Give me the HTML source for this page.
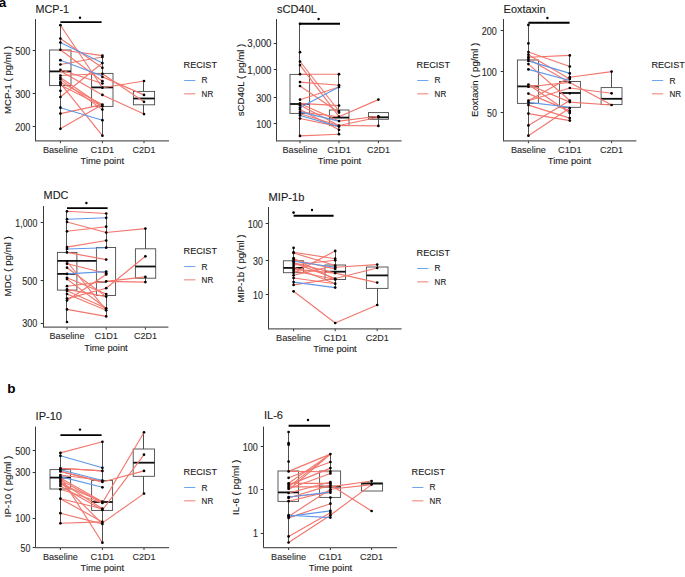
<!DOCTYPE html>
<html><head><meta charset="utf-8"><style>
html,body{margin:0;padding:0;background:#fff;width:685px;height:577px;overflow:hidden}
svg{display:block;font-family:"Liberation Sans", sans-serif}
</style></head><body>
<svg width="685" height="577" viewBox="0 0 685 577">
<rect width="685" height="577" fill="#fff"/>
<text x="35.6" y="13" font-size="11" text-anchor="start" fill="#1a1a1a" stroke="#1a1a1a" stroke-width="0.12" font-weight="normal" textLength="33.4" lengthAdjust="spacingAndGlyphs">MCP-1</text>
<text x="11.0" y="80.05" font-size="9.5" text-anchor="middle" fill="#1a1a1a" stroke="#1a1a1a" stroke-width="0.12" font-weight="normal" textLength="67.8" lengthAdjust="spacingAndGlyphs" transform="rotate(-90 11.0 80.05)">MCP-1 ( pg/ml )</text>
<line x1="32.7" y1="50.5" x2="35.5" y2="50.5" stroke="#333" stroke-width="1"/>
<text x="30.3" y="55.0" font-size="10" text-anchor="end" fill="#2a2a2a" stroke="#2a2a2a" stroke-width="0.12" font-weight="normal" textLength="15.09" lengthAdjust="spacingAndGlyphs">500</text>
<line x1="32.7" y1="93.5" x2="35.5" y2="93.5" stroke="#333" stroke-width="1"/>
<text x="30.3" y="97.80000000000001" font-size="10" text-anchor="end" fill="#2a2a2a" stroke="#2a2a2a" stroke-width="0.12" font-weight="normal" textLength="15.09" lengthAdjust="spacingAndGlyphs">300</text>
<line x1="32.7" y1="126.5" x2="35.5" y2="126.5" stroke="#333" stroke-width="1"/>
<text x="30.3" y="130.8" font-size="10" text-anchor="end" fill="#2a2a2a" stroke="#2a2a2a" stroke-width="0.12" font-weight="normal" textLength="15.09" lengthAdjust="spacingAndGlyphs">200</text>
<line x1="60.4" y1="140.6" x2="60.4" y2="143.2" stroke="#333" stroke-width="1"/>
<text x="60.4" y="153" font-size="9.9" text-anchor="middle" fill="#2a2a2a" stroke="#2a2a2a" stroke-width="0.12" font-weight="normal" textLength="35" lengthAdjust="spacingAndGlyphs">Baseline</text>
<line x1="102.4" y1="140.6" x2="102.4" y2="143.2" stroke="#333" stroke-width="1"/>
<text x="102.4" y="153" font-size="9.9" text-anchor="middle" fill="#2a2a2a" stroke="#2a2a2a" stroke-width="0.12" font-weight="normal" textLength="23.6" lengthAdjust="spacingAndGlyphs">C1D1</text>
<line x1="144" y1="140.6" x2="144" y2="143.2" stroke="#333" stroke-width="1"/>
<text x="144" y="153" font-size="9.9" text-anchor="middle" fill="#2a2a2a" stroke="#2a2a2a" stroke-width="0.12" font-weight="normal" textLength="23" lengthAdjust="spacingAndGlyphs">C2D1</text>
<text x="102.3" y="164" font-size="9.9" text-anchor="middle" fill="#222" stroke="#222" stroke-width="0.12" font-weight="normal" textLength="43.4" lengthAdjust="spacingAndGlyphs">Time point</text>
<line x1="60.5" y1="25.2" x2="60.5" y2="50" stroke="#505050" stroke-width="1"/>
<line x1="60.5" y1="85.6" x2="60.5" y2="128.6" stroke="#505050" stroke-width="1"/>
<rect x="49.6" y="50" width="21.4" height="35.599999999999994" fill="none" stroke="#4a4a4a" stroke-width="0.9"/>
<line x1="49.6" y1="71.4" x2="71" y2="71.4" stroke="#111" stroke-width="1.8"/>
<line x1="102.5" y1="56" x2="102.5" y2="73.4" stroke="#505050" stroke-width="1"/>
<line x1="102.5" y1="106.4" x2="102.5" y2="135.6" stroke="#505050" stroke-width="1"/>
<rect x="91.6" y="73.4" width="21.400000000000006" height="33.0" fill="none" stroke="#4a4a4a" stroke-width="0.9"/>
<line x1="91.6" y1="87.4" x2="113" y2="87.4" stroke="#111" stroke-width="1.8"/>
<line x1="143.5" y1="80.6" x2="143.5" y2="91.4" stroke="#505050" stroke-width="1"/>
<line x1="143.5" y1="104.8" x2="143.5" y2="114.4" stroke="#505050" stroke-width="1"/>
<rect x="133.4" y="91.4" width="21.19999999999999" height="13.399999999999991" fill="none" stroke="#4a4a4a" stroke-width="0.9"/>
<line x1="133.4" y1="98.5" x2="154.6" y2="98.5" stroke="#111" stroke-width="1.8"/>
<line x1="60.4" y1="25.2" x2="102.4" y2="87.7" stroke="#F2776D" stroke-width="1.15"/>
<line x1="60.4" y1="38.5" x2="102.4" y2="67.8" stroke="#F2776D" stroke-width="1.15"/>
<line x1="60.4" y1="49.8" x2="102.4" y2="55.6" stroke="#F2776D" stroke-width="1.15"/>
<line x1="60.4" y1="49.8" x2="102.4" y2="81.2" stroke="#F2776D" stroke-width="1.15"/>
<line x1="60.4" y1="64.5" x2="102.4" y2="57" stroke="#F2776D" stroke-width="1.15"/>
<line x1="60.4" y1="97" x2="102.4" y2="63" stroke="#F2776D" stroke-width="1.15"/>
<line x1="60.4" y1="113.6" x2="102.4" y2="104.6" stroke="#F2776D" stroke-width="1.15"/>
<line x1="60.4" y1="128.8" x2="102.4" y2="104.6" stroke="#F2776D" stroke-width="1.15"/>
<line x1="60.4" y1="83.4" x2="102.4" y2="135.7" stroke="#F2776D" stroke-width="1.15"/>
<line x1="60.4" y1="77.5" x2="102.4" y2="106.2" stroke="#F2776D" stroke-width="1.15"/>
<line x1="60.4" y1="82.2" x2="102.4" y2="104.6" stroke="#F2776D" stroke-width="1.15"/>
<line x1="60.4" y1="85.1" x2="102.4" y2="106.2" stroke="#F2776D" stroke-width="1.15"/>
<line x1="60.4" y1="69.8" x2="102.4" y2="83.5" stroke="#F2776D" stroke-width="1.15"/>
<line x1="60.4" y1="75.5" x2="102.4" y2="73.8" stroke="#F2776D" stroke-width="1.15"/>
<line x1="60.4" y1="79.4" x2="102.4" y2="109.6" stroke="#F2776D" stroke-width="1.15"/>
<line x1="60.4" y1="71" x2="102.4" y2="94.9" stroke="#F2776D" stroke-width="1.15"/>
<line x1="102.4" y1="87.7" x2="144" y2="81" stroke="#F2776D" stroke-width="1.15"/>
<line x1="102.4" y1="76.9" x2="144" y2="94.9" stroke="#F2776D" stroke-width="1.15"/>
<line x1="102.4" y1="73.8" x2="144" y2="101.8" stroke="#F2776D" stroke-width="1.15"/>
<line x1="102.4" y1="94.9" x2="144" y2="114.1" stroke="#F2776D" stroke-width="1.15"/>
<line x1="60.4" y1="42.6" x2="102.4" y2="63" stroke="#5F98E8" stroke-width="1.15"/>
<line x1="60.4" y1="60.2" x2="102.4" y2="76" stroke="#5F98E8" stroke-width="1.15"/>
<line x1="60.4" y1="107.7" x2="102.4" y2="120.2" stroke="#5F98E8" stroke-width="1.15"/>
<circle cx="60.4" cy="25.2" r="1.35" fill="#000"/>
<circle cx="60.4" cy="38.5" r="1.35" fill="#000"/>
<circle cx="60.4" cy="42.6" r="1.35" fill="#000"/>
<circle cx="60.4" cy="49.8" r="1.35" fill="#000"/>
<circle cx="60.4" cy="60.2" r="1.35" fill="#000"/>
<circle cx="60.4" cy="64.5" r="1.35" fill="#000"/>
<circle cx="60.4" cy="69.8" r="1.35" fill="#000"/>
<circle cx="60.4" cy="75.5" r="1.35" fill="#000"/>
<circle cx="60.4" cy="77.5" r="1.35" fill="#000"/>
<circle cx="60.4" cy="79.4" r="1.35" fill="#000"/>
<circle cx="60.4" cy="82.2" r="1.35" fill="#000"/>
<circle cx="60.4" cy="83.4" r="1.35" fill="#000"/>
<circle cx="60.4" cy="85.1" r="1.35" fill="#000"/>
<circle cx="60.4" cy="90.8" r="1.35" fill="#000"/>
<circle cx="60.4" cy="97" r="1.35" fill="#000"/>
<circle cx="60.4" cy="107.7" r="1.35" fill="#000"/>
<circle cx="60.4" cy="113.6" r="1.35" fill="#000"/>
<circle cx="60.4" cy="128.8" r="1.35" fill="#000"/>
<circle cx="102.4" cy="55.6" r="1.35" fill="#000"/>
<circle cx="102.4" cy="57" r="1.35" fill="#000"/>
<circle cx="102.4" cy="63" r="1.35" fill="#000"/>
<circle cx="102.4" cy="67.8" r="1.35" fill="#000"/>
<circle cx="102.4" cy="73.8" r="1.35" fill="#000"/>
<circle cx="102.4" cy="76.9" r="1.35" fill="#000"/>
<circle cx="102.4" cy="81.2" r="1.35" fill="#000"/>
<circle cx="102.4" cy="83.5" r="1.35" fill="#000"/>
<circle cx="102.4" cy="87.7" r="1.35" fill="#000"/>
<circle cx="102.4" cy="94.9" r="1.35" fill="#000"/>
<circle cx="102.4" cy="104.6" r="1.35" fill="#000"/>
<circle cx="102.4" cy="106.2" r="1.35" fill="#000"/>
<circle cx="102.4" cy="109.6" r="1.35" fill="#000"/>
<circle cx="102.4" cy="120.2" r="1.35" fill="#000"/>
<circle cx="102.4" cy="135.7" r="1.35" fill="#000"/>
<circle cx="144" cy="81" r="1.35" fill="#000"/>
<circle cx="144" cy="94.9" r="1.35" fill="#000"/>
<circle cx="144" cy="101.8" r="1.35" fill="#000"/>
<circle cx="144" cy="114.1" r="1.35" fill="#000"/>
<line x1="35.5" y1="19" x2="35.5" y2="141.2" stroke="#3a3a3a" stroke-width="1"/>
<line x1="35.0" y1="140.79999999999998" x2="169" y2="140.79999999999998" stroke="#5a5a5a" stroke-width="1.3"/>
<line x1="60.4" y1="22.1" x2="101.6" y2="22.1" stroke="#000" stroke-width="1.9"/>
<circle cx="80" cy="17.8" r="1.2" fill="#000"/>
<text x="183.6" y="68" font-size="9.6" text-anchor="start" fill="#1a1a1a" stroke="#1a1a1a" stroke-width="0.12" font-weight="normal" textLength="33.4" lengthAdjust="spacingAndGlyphs">RECIST</text>
<line x1="184.2" y1="80.5" x2="195.4" y2="80.5" stroke="#5C9BF2" stroke-width="0.9"/>
<line x1="184.2" y1="93.8" x2="195.4" y2="93.8" stroke="#F29A93" stroke-width="1.3"/>
<text x="201.6" y="83.3" font-size="8.3" text-anchor="start" fill="#222" stroke="#222" stroke-width="0.12" font-weight="normal">R</text>
<text x="201.6" y="97.3" font-size="8.3" text-anchor="start" fill="#222" stroke="#222" stroke-width="0.12" font-weight="normal" textLength="11.6" lengthAdjust="spacingAndGlyphs">NR</text>
<text x="277" y="13" font-size="11" text-anchor="start" fill="#1a1a1a" stroke="#1a1a1a" stroke-width="0.12" font-weight="normal" textLength="40" lengthAdjust="spacingAndGlyphs">sCD40L</text>
<text x="244.1" y="80.0" font-size="9.5" text-anchor="middle" fill="#1a1a1a" stroke="#1a1a1a" stroke-width="0.12" font-weight="normal" textLength="72.7" lengthAdjust="spacingAndGlyphs" transform="rotate(-90 244.1 80.0)">sCD40L ( pg/ml )</text>
<line x1="273.7" y1="43.5" x2="276.5" y2="43.5" stroke="#333" stroke-width="1"/>
<text x="271.40000000000003" y="47.4" font-size="10" text-anchor="end" fill="#2a2a2a" stroke="#2a2a2a" stroke-width="0.12" font-weight="normal" textLength="24.11" lengthAdjust="spacingAndGlyphs">3,000</text>
<line x1="273.7" y1="69.5" x2="276.5" y2="69.5" stroke="#333" stroke-width="1"/>
<text x="271.40000000000003" y="73.80000000000001" font-size="10" text-anchor="end" fill="#2a2a2a" stroke="#2a2a2a" stroke-width="0.12" font-weight="normal" textLength="24.11" lengthAdjust="spacingAndGlyphs">1,000</text>
<line x1="273.7" y1="97.5" x2="276.5" y2="97.5" stroke="#333" stroke-width="1"/>
<text x="271.40000000000003" y="101.9" font-size="10" text-anchor="end" fill="#2a2a2a" stroke="#2a2a2a" stroke-width="0.12" font-weight="normal" textLength="15.09" lengthAdjust="spacingAndGlyphs">300</text>
<line x1="273.7" y1="123.5" x2="276.5" y2="123.5" stroke="#333" stroke-width="1"/>
<text x="271.40000000000003" y="128.0" font-size="10" text-anchor="end" fill="#2a2a2a" stroke="#2a2a2a" stroke-width="0.12" font-weight="normal" textLength="15.09" lengthAdjust="spacingAndGlyphs">100</text>
<line x1="300" y1="140.6" x2="300" y2="143.2" stroke="#333" stroke-width="1"/>
<text x="300" y="153" font-size="9.9" text-anchor="middle" fill="#2a2a2a" stroke="#2a2a2a" stroke-width="0.12" font-weight="normal" textLength="35" lengthAdjust="spacingAndGlyphs">Baseline</text>
<line x1="339" y1="140.6" x2="339" y2="143.2" stroke="#333" stroke-width="1"/>
<text x="339" y="153" font-size="9.9" text-anchor="middle" fill="#2a2a2a" stroke="#2a2a2a" stroke-width="0.12" font-weight="normal" textLength="23.6" lengthAdjust="spacingAndGlyphs">C1D1</text>
<line x1="378.4" y1="140.6" x2="378.4" y2="143.2" stroke="#333" stroke-width="1"/>
<text x="378.4" y="153" font-size="9.9" text-anchor="middle" fill="#2a2a2a" stroke="#2a2a2a" stroke-width="0.12" font-weight="normal" textLength="23" lengthAdjust="spacingAndGlyphs">C2D1</text>
<text x="339.5" y="164" font-size="9.9" text-anchor="middle" fill="#222" stroke="#222" stroke-width="0.12" font-weight="normal" textLength="43.4" lengthAdjust="spacingAndGlyphs">Time point</text>
<line x1="299.5" y1="24" x2="299.5" y2="74.4" stroke="#505050" stroke-width="1"/>
<line x1="299.5" y1="113.4" x2="299.5" y2="135.6" stroke="#505050" stroke-width="1"/>
<rect x="290" y="74.4" width="19.600000000000023" height="39.0" fill="none" stroke="#4a4a4a" stroke-width="0.9"/>
<line x1="290" y1="104" x2="309.6" y2="104" stroke="#111" stroke-width="1.8"/>
<line x1="338.5" y1="74.4" x2="338.5" y2="110" stroke="#505050" stroke-width="1"/>
<line x1="338.5" y1="125.6" x2="338.5" y2="134" stroke="#505050" stroke-width="1"/>
<rect x="329.4" y="110" width="19.600000000000023" height="15.599999999999994" fill="none" stroke="#4a4a4a" stroke-width="0.9"/>
<line x1="329.4" y1="117.6" x2="349" y2="117.6" stroke="#111" stroke-width="1.8"/>
<line x1="378.5" y1="112.6" x2="378.5" y2="112.6" stroke="#505050" stroke-width="1"/>
<line x1="378.5" y1="119.3" x2="378.5" y2="125.9" stroke="#505050" stroke-width="1"/>
<rect x="368.5" y="112.6" width="20.0" height="6.700000000000003" fill="none" stroke="#4a4a4a" stroke-width="0.9"/>
<line x1="368.5" y1="117.3" x2="388.5" y2="117.3" stroke="#111" stroke-width="1.8"/>
<line x1="300" y1="74.2" x2="339" y2="74.2" stroke="#F2776D" stroke-width="1.15"/>
<line x1="300" y1="82.1" x2="339" y2="85.2" stroke="#F2776D" stroke-width="1.15"/>
<line x1="300" y1="86" x2="339" y2="112.6" stroke="#F2776D" stroke-width="1.15"/>
<line x1="300" y1="99.7" x2="339" y2="87" stroke="#F2776D" stroke-width="1.15"/>
<line x1="300" y1="61.5" x2="339" y2="111" stroke="#F2776D" stroke-width="1.15"/>
<line x1="300" y1="65.1" x2="339" y2="116.7" stroke="#F2776D" stroke-width="1.15"/>
<line x1="300" y1="103.4" x2="339" y2="105.6" stroke="#F2776D" stroke-width="1.15"/>
<line x1="300" y1="105.2" x2="339" y2="125.5" stroke="#F2776D" stroke-width="1.15"/>
<line x1="300" y1="109.4" x2="339" y2="129.8" stroke="#F2776D" stroke-width="1.15"/>
<line x1="300" y1="113.7" x2="339" y2="125.5" stroke="#F2776D" stroke-width="1.15"/>
<line x1="300" y1="118.5" x2="339" y2="126.6" stroke="#F2776D" stroke-width="1.15"/>
<line x1="300" y1="135.9" x2="339" y2="134.2" stroke="#F2776D" stroke-width="1.15"/>
<line x1="300" y1="103.4" x2="339" y2="121.1" stroke="#F2776D" stroke-width="1.15"/>
<line x1="300" y1="111.9" x2="339" y2="116.7" stroke="#F2776D" stroke-width="1.15"/>
<line x1="339" y1="116.7" x2="378.4" y2="99.6" stroke="#F2776D" stroke-width="1.15"/>
<line x1="339" y1="121.1" x2="378.4" y2="116.3" stroke="#F2776D" stroke-width="1.15"/>
<line x1="339" y1="125.5" x2="378.4" y2="117.3" stroke="#F2776D" stroke-width="1.15"/>
<line x1="339" y1="125.5" x2="378.4" y2="125.9" stroke="#F2776D" stroke-width="1.15"/>
<line x1="300" y1="107.6" x2="339" y2="87" stroke="#5F98E8" stroke-width="1.15"/>
<line x1="300" y1="111.9" x2="339" y2="121.1" stroke="#5F98E8" stroke-width="1.15"/>
<line x1="300" y1="115.5" x2="339" y2="126.6" stroke="#5F98E8" stroke-width="1.15"/>
<circle cx="300" cy="23.8" r="1.35" fill="#000"/>
<circle cx="300" cy="52.2" r="1.35" fill="#000"/>
<circle cx="300" cy="61.5" r="1.35" fill="#000"/>
<circle cx="300" cy="65.1" r="1.35" fill="#000"/>
<circle cx="300" cy="74.2" r="1.35" fill="#000"/>
<circle cx="300" cy="82.1" r="1.35" fill="#000"/>
<circle cx="300" cy="86" r="1.35" fill="#000"/>
<circle cx="300" cy="99.7" r="1.35" fill="#000"/>
<circle cx="300" cy="103.4" r="1.35" fill="#000"/>
<circle cx="300" cy="105.2" r="1.35" fill="#000"/>
<circle cx="300" cy="107.6" r="1.35" fill="#000"/>
<circle cx="300" cy="109.4" r="1.35" fill="#000"/>
<circle cx="300" cy="111.9" r="1.35" fill="#000"/>
<circle cx="300" cy="113.7" r="1.35" fill="#000"/>
<circle cx="300" cy="115.5" r="1.35" fill="#000"/>
<circle cx="300" cy="118.5" r="1.35" fill="#000"/>
<circle cx="300" cy="135.9" r="1.35" fill="#000"/>
<circle cx="339" cy="74.2" r="1.35" fill="#000"/>
<circle cx="339" cy="85.2" r="1.35" fill="#000"/>
<circle cx="339" cy="87" r="1.35" fill="#000"/>
<circle cx="339" cy="105.6" r="1.35" fill="#000"/>
<circle cx="339" cy="111" r="1.35" fill="#000"/>
<circle cx="339" cy="112.6" r="1.35" fill="#000"/>
<circle cx="339" cy="116.7" r="1.35" fill="#000"/>
<circle cx="339" cy="121.1" r="1.35" fill="#000"/>
<circle cx="339" cy="125.5" r="1.35" fill="#000"/>
<circle cx="339" cy="126.6" r="1.35" fill="#000"/>
<circle cx="339" cy="129.8" r="1.35" fill="#000"/>
<circle cx="339" cy="134.2" r="1.35" fill="#000"/>
<circle cx="378.4" cy="99.6" r="1.35" fill="#000"/>
<circle cx="378.4" cy="116.3" r="1.35" fill="#000"/>
<circle cx="378.4" cy="117.3" r="1.35" fill="#000"/>
<circle cx="378.4" cy="125.9" r="1.35" fill="#000"/>
<line x1="276.5" y1="19" x2="276.5" y2="141.2" stroke="#3a3a3a" stroke-width="1"/>
<line x1="276.0" y1="140.79999999999998" x2="401.6" y2="140.79999999999998" stroke="#5a5a5a" stroke-width="1.3"/>
<line x1="300" y1="23.700000000000003" x2="340" y2="23.700000000000003" stroke="#000" stroke-width="1.9"/>
<circle cx="318.6" cy="19" r="1.2" fill="#000"/>
<text x="416.6" y="68" font-size="9.6" text-anchor="start" fill="#1a1a1a" stroke="#1a1a1a" stroke-width="0.12" font-weight="normal" textLength="33.4" lengthAdjust="spacingAndGlyphs">RECIST</text>
<line x1="417.20000000000005" y1="80.5" x2="428.40000000000003" y2="80.5" stroke="#5C9BF2" stroke-width="0.9"/>
<line x1="417.20000000000005" y1="93.8" x2="428.40000000000003" y2="93.8" stroke="#F29A93" stroke-width="1.3"/>
<text x="434.6" y="83.3" font-size="8.3" text-anchor="start" fill="#222" stroke="#222" stroke-width="0.12" font-weight="normal">R</text>
<text x="434.6" y="97.3" font-size="8.3" text-anchor="start" fill="#222" stroke="#222" stroke-width="0.12" font-weight="normal" textLength="11.6" lengthAdjust="spacingAndGlyphs">NR</text>
<text x="503.6" y="13" font-size="11" text-anchor="start" fill="#1a1a1a" stroke="#1a1a1a" stroke-width="0.12" font-weight="normal" textLength="42" lengthAdjust="spacingAndGlyphs">Eoxtaxin</text>
<text x="478.3" y="79.9" font-size="9.5" text-anchor="middle" fill="#1a1a1a" stroke="#1a1a1a" stroke-width="0.12" font-weight="normal" textLength="74.4" lengthAdjust="spacingAndGlyphs" transform="rotate(-90 478.3 79.9)">Eoxtaxin ( pg/ml )</text>
<line x1="500.7" y1="30.5" x2="503.5" y2="30.5" stroke="#333" stroke-width="1"/>
<text x="496.8" y="35.0" font-size="10" text-anchor="end" fill="#2a2a2a" stroke="#2a2a2a" stroke-width="0.12" font-weight="normal" textLength="15.09" lengthAdjust="spacingAndGlyphs">200</text>
<line x1="500.7" y1="71.5" x2="503.5" y2="71.5" stroke="#333" stroke-width="1"/>
<text x="496.8" y="76.0" font-size="10" text-anchor="end" fill="#2a2a2a" stroke="#2a2a2a" stroke-width="0.12" font-weight="normal" textLength="15.09" lengthAdjust="spacingAndGlyphs">100</text>
<line x1="500.7" y1="112.5" x2="503.5" y2="112.5" stroke="#333" stroke-width="1"/>
<text x="496.8" y="117.2" font-size="10" text-anchor="end" fill="#2a2a2a" stroke="#2a2a2a" stroke-width="0.12" font-weight="normal" textLength="9.8" lengthAdjust="spacingAndGlyphs">50</text>
<line x1="528.4" y1="140.6" x2="528.4" y2="143.2" stroke="#333" stroke-width="1"/>
<text x="528.4" y="153" font-size="9.9" text-anchor="middle" fill="#2a2a2a" stroke="#2a2a2a" stroke-width="0.12" font-weight="normal" textLength="35" lengthAdjust="spacingAndGlyphs">Baseline</text>
<line x1="569.8" y1="140.6" x2="569.8" y2="143.2" stroke="#333" stroke-width="1"/>
<text x="569.8" y="153" font-size="9.9" text-anchor="middle" fill="#2a2a2a" stroke="#2a2a2a" stroke-width="0.12" font-weight="normal" textLength="23.6" lengthAdjust="spacingAndGlyphs">C1D1</text>
<line x1="611.6" y1="140.6" x2="611.6" y2="143.2" stroke="#333" stroke-width="1"/>
<text x="611.6" y="153" font-size="9.9" text-anchor="middle" fill="#2a2a2a" stroke="#2a2a2a" stroke-width="0.12" font-weight="normal" textLength="23" lengthAdjust="spacingAndGlyphs">C2D1</text>
<text x="569.5" y="164" font-size="9.9" text-anchor="middle" fill="#222" stroke="#222" stroke-width="0.12" font-weight="normal" textLength="43.4" lengthAdjust="spacingAndGlyphs">Time point</text>
<line x1="528.5" y1="24.9" x2="528.5" y2="60" stroke="#505050" stroke-width="1"/>
<line x1="528.5" y1="103.4" x2="528.5" y2="135.7" stroke="#505050" stroke-width="1"/>
<rect x="517.4" y="60" width="21.0" height="43.400000000000006" fill="none" stroke="#4a4a4a" stroke-width="0.9"/>
<line x1="517.4" y1="86.4" x2="538.4" y2="86.4" stroke="#111" stroke-width="1.8"/>
<line x1="569.5" y1="55.4" x2="569.5" y2="81.5" stroke="#505050" stroke-width="1"/>
<line x1="569.5" y1="107.3" x2="569.5" y2="120.6" stroke="#505050" stroke-width="1"/>
<rect x="559.5" y="81.5" width="20.899999999999977" height="25.799999999999997" fill="none" stroke="#4a4a4a" stroke-width="0.9"/>
<line x1="559.5" y1="93" x2="580.4" y2="93" stroke="#111" stroke-width="1.8"/>
<line x1="611.5" y1="71.6" x2="611.5" y2="87.6" stroke="#505050" stroke-width="1"/>
<line x1="611.5" y1="104.6" x2="611.5" y2="105" stroke="#505050" stroke-width="1"/>
<rect x="601.1" y="87.6" width="20.899999999999977" height="17.0" fill="none" stroke="#4a4a4a" stroke-width="0.9"/>
<line x1="601.1" y1="98.8" x2="622" y2="98.8" stroke="#111" stroke-width="1.8"/>
<line x1="528.4" y1="52" x2="569.8" y2="66.5" stroke="#F2776D" stroke-width="1.15"/>
<line x1="528.4" y1="54.7" x2="569.8" y2="79" stroke="#F2776D" stroke-width="1.15"/>
<line x1="528.4" y1="57.2" x2="569.8" y2="55.4" stroke="#F2776D" stroke-width="1.15"/>
<line x1="528.4" y1="59.1" x2="569.8" y2="82.4" stroke="#F2776D" stroke-width="1.15"/>
<line x1="528.4" y1="64.1" x2="569.8" y2="100.5" stroke="#F2776D" stroke-width="1.15"/>
<line x1="528.4" y1="84.5" x2="569.8" y2="102.1" stroke="#F2776D" stroke-width="1.15"/>
<line x1="528.4" y1="86.7" x2="569.8" y2="82.4" stroke="#F2776D" stroke-width="1.15"/>
<line x1="528.4" y1="93.6" x2="569.8" y2="110.9" stroke="#F2776D" stroke-width="1.15"/>
<line x1="528.4" y1="100.7" x2="569.8" y2="88" stroke="#F2776D" stroke-width="1.15"/>
<line x1="528.4" y1="105.1" x2="569.8" y2="118.1" stroke="#F2776D" stroke-width="1.15"/>
<line x1="528.4" y1="113.6" x2="569.8" y2="120.6" stroke="#F2776D" stroke-width="1.15"/>
<line x1="528.4" y1="125.4" x2="569.8" y2="100.5" stroke="#F2776D" stroke-width="1.15"/>
<line x1="528.4" y1="135.7" x2="569.8" y2="108.1" stroke="#F2776D" stroke-width="1.15"/>
<line x1="528.4" y1="100.7" x2="569.8" y2="77.2" stroke="#F2776D" stroke-width="1.15"/>
<line x1="528.4" y1="84.5" x2="569.8" y2="113" stroke="#F2776D" stroke-width="1.15"/>
<line x1="569.8" y1="77.2" x2="611.6" y2="71.6" stroke="#F2776D" stroke-width="1.15"/>
<line x1="569.8" y1="88" x2="611.6" y2="93.3" stroke="#F2776D" stroke-width="1.15"/>
<line x1="569.8" y1="82.4" x2="611.6" y2="105" stroke="#F2776D" stroke-width="1.15"/>
<line x1="569.8" y1="102.1" x2="611.6" y2="105" stroke="#F2776D" stroke-width="1.15"/>
<line x1="528.4" y1="60.9" x2="569.8" y2="73.4" stroke="#5F98E8" stroke-width="1.15"/>
<line x1="528.4" y1="69.4" x2="569.8" y2="80.5" stroke="#5F98E8" stroke-width="1.15"/>
<line x1="528.4" y1="102.4" x2="569.8" y2="107.3" stroke="#5F98E8" stroke-width="1.15"/>
<circle cx="528.4" cy="24.9" r="1.35" fill="#000"/>
<circle cx="528.4" cy="43.4" r="1.35" fill="#000"/>
<circle cx="528.4" cy="52" r="1.35" fill="#000"/>
<circle cx="528.4" cy="54.7" r="1.35" fill="#000"/>
<circle cx="528.4" cy="57.2" r="1.35" fill="#000"/>
<circle cx="528.4" cy="59.1" r="1.35" fill="#000"/>
<circle cx="528.4" cy="60.9" r="1.35" fill="#000"/>
<circle cx="528.4" cy="64.1" r="1.35" fill="#000"/>
<circle cx="528.4" cy="69.4" r="1.35" fill="#000"/>
<circle cx="528.4" cy="84.5" r="1.35" fill="#000"/>
<circle cx="528.4" cy="86.7" r="1.35" fill="#000"/>
<circle cx="528.4" cy="93.6" r="1.35" fill="#000"/>
<circle cx="528.4" cy="100.7" r="1.35" fill="#000"/>
<circle cx="528.4" cy="102.4" r="1.35" fill="#000"/>
<circle cx="528.4" cy="105.1" r="1.35" fill="#000"/>
<circle cx="528.4" cy="113.6" r="1.35" fill="#000"/>
<circle cx="528.4" cy="125.4" r="1.35" fill="#000"/>
<circle cx="528.4" cy="135.7" r="1.35" fill="#000"/>
<circle cx="569.8" cy="55.4" r="1.35" fill="#000"/>
<circle cx="569.8" cy="66.5" r="1.35" fill="#000"/>
<circle cx="569.8" cy="73.4" r="1.35" fill="#000"/>
<circle cx="569.8" cy="77.2" r="1.35" fill="#000"/>
<circle cx="569.8" cy="79" r="1.35" fill="#000"/>
<circle cx="569.8" cy="82.4" r="1.35" fill="#000"/>
<circle cx="569.8" cy="88" r="1.35" fill="#000"/>
<circle cx="569.8" cy="93.3" r="1.35" fill="#000"/>
<circle cx="569.8" cy="100.5" r="1.35" fill="#000"/>
<circle cx="569.8" cy="102.1" r="1.35" fill="#000"/>
<circle cx="569.8" cy="108.1" r="1.35" fill="#000"/>
<circle cx="569.8" cy="110.9" r="1.35" fill="#000"/>
<circle cx="569.8" cy="113" r="1.35" fill="#000"/>
<circle cx="569.8" cy="118.1" r="1.35" fill="#000"/>
<circle cx="569.8" cy="120.6" r="1.35" fill="#000"/>
<circle cx="611.6" cy="71.6" r="1.35" fill="#000"/>
<circle cx="611.6" cy="93.3" r="1.35" fill="#000"/>
<circle cx="611.6" cy="105" r="1.35" fill="#000"/>
<line x1="503.5" y1="19" x2="503.5" y2="141.2" stroke="#3a3a3a" stroke-width="1"/>
<line x1="503.0" y1="140.79999999999998" x2="636.4" y2="140.79999999999998" stroke="#5a5a5a" stroke-width="1.3"/>
<line x1="528.4" y1="22.700000000000003" x2="569.6" y2="22.700000000000003" stroke="#000" stroke-width="1.9"/>
<circle cx="547.4" cy="18" r="1.2" fill="#000"/>
<text x="651.4" y="68" font-size="9.6" text-anchor="start" fill="#1a1a1a" stroke="#1a1a1a" stroke-width="0.12" font-weight="normal" textLength="33.4" lengthAdjust="spacingAndGlyphs">RECIST</text>
<line x1="652.0" y1="80.5" x2="663.1999999999999" y2="80.5" stroke="#5C9BF2" stroke-width="0.9"/>
<line x1="652.0" y1="93.8" x2="663.1999999999999" y2="93.8" stroke="#F29A93" stroke-width="1.3"/>
<text x="669.4" y="83.89999999999999" font-size="8.3" text-anchor="start" fill="#222" stroke="#222" stroke-width="0.12" font-weight="normal">R</text>
<text x="669.4" y="97.3" font-size="8.3" text-anchor="start" fill="#222" stroke="#222" stroke-width="0.12" font-weight="normal" textLength="11.6" lengthAdjust="spacingAndGlyphs">NR</text>
<text x="43.6" y="199" font-size="11" text-anchor="start" fill="#1a1a1a" stroke="#1a1a1a" stroke-width="0.12" font-weight="normal" textLength="24.8" lengthAdjust="spacingAndGlyphs">MDC</text>
<text x="11.0" y="266.3" font-size="9.5" text-anchor="middle" fill="#1a1a1a" stroke="#1a1a1a" stroke-width="0.12" font-weight="normal" textLength="60.2" lengthAdjust="spacingAndGlyphs" transform="rotate(-90 11.0 266.3)">MDC ( pg/ml )</text>
<line x1="40.7" y1="222.5" x2="43.5" y2="222.5" stroke="#333" stroke-width="1"/>
<text x="37.3" y="227.0" font-size="10" text-anchor="end" fill="#2a2a2a" stroke="#2a2a2a" stroke-width="0.12" font-weight="normal" textLength="21.95" lengthAdjust="spacingAndGlyphs">1,000</text>
<line x1="40.7" y1="280.5" x2="43.5" y2="280.5" stroke="#333" stroke-width="1"/>
<text x="37.3" y="285.0" font-size="10" text-anchor="end" fill="#2a2a2a" stroke="#2a2a2a" stroke-width="0.12" font-weight="normal" textLength="15.09" lengthAdjust="spacingAndGlyphs">500</text>
<line x1="40.7" y1="323.5" x2="43.5" y2="323.5" stroke="#333" stroke-width="1"/>
<text x="37.3" y="327.4" font-size="10" text-anchor="end" fill="#2a2a2a" stroke="#2a2a2a" stroke-width="0.12" font-weight="normal" textLength="15.09" lengthAdjust="spacingAndGlyphs">300</text>
<line x1="67" y1="327" x2="67" y2="329.6" stroke="#333" stroke-width="1"/>
<text x="67" y="339.2" font-size="9.9" text-anchor="middle" fill="#2a2a2a" stroke="#2a2a2a" stroke-width="0.12" font-weight="normal" textLength="35" lengthAdjust="spacingAndGlyphs">Baseline</text>
<line x1="106.2" y1="327" x2="106.2" y2="329.6" stroke="#333" stroke-width="1"/>
<text x="106.2" y="339.2" font-size="9.9" text-anchor="middle" fill="#2a2a2a" stroke="#2a2a2a" stroke-width="0.12" font-weight="normal" textLength="23.6" lengthAdjust="spacingAndGlyphs">C1D1</text>
<line x1="145.4" y1="327" x2="145.4" y2="329.6" stroke="#333" stroke-width="1"/>
<text x="145.4" y="339.2" font-size="9.9" text-anchor="middle" fill="#2a2a2a" stroke="#2a2a2a" stroke-width="0.12" font-weight="normal" textLength="23" lengthAdjust="spacingAndGlyphs">C2D1</text>
<text x="106" y="350.5" font-size="9.9" text-anchor="middle" fill="#222" stroke="#222" stroke-width="0.12" font-weight="normal" textLength="43.4" lengthAdjust="spacingAndGlyphs">Time point</text>
<line x1="66.5" y1="211.3" x2="66.5" y2="252.4" stroke="#505050" stroke-width="1"/>
<line x1="66.5" y1="290.1" x2="66.5" y2="322" stroke="#505050" stroke-width="1"/>
<rect x="57.4" y="252.4" width="19.500000000000007" height="37.70000000000002" fill="none" stroke="#4a4a4a" stroke-width="0.9"/>
<line x1="57.4" y1="273.9" x2="76.9" y2="273.9" stroke="#111" stroke-width="1.8"/>
<line x1="106.5" y1="213.5" x2="106.5" y2="247.5" stroke="#505050" stroke-width="1"/>
<line x1="106.5" y1="295.5" x2="106.5" y2="316.4" stroke="#505050" stroke-width="1"/>
<rect x="96.4" y="247.5" width="19.19999999999999" height="48.0" fill="none" stroke="#4a4a4a" stroke-width="0.9"/>
<line x1="145.5" y1="228.6" x2="145.5" y2="248.8" stroke="#505050" stroke-width="1"/>
<line x1="145.5" y1="278.2" x2="145.5" y2="282.1" stroke="#505050" stroke-width="1"/>
<rect x="135.4" y="248.8" width="20.299999999999983" height="29.399999999999977" fill="none" stroke="#4a4a4a" stroke-width="0.9"/>
<line x1="135.4" y1="266.5" x2="155.7" y2="266.5" stroke="#111" stroke-width="1.8"/>
<line x1="57.4" y1="260.9" x2="96.4" y2="260.9" stroke="#111" stroke-width="1.8"/>
<line x1="96.4" y1="282" x2="106" y2="282" stroke="#222" stroke-width="1.2"/>
<line x1="67" y1="211.3" x2="106.2" y2="213.5" stroke="#F2776D" stroke-width="1.15"/>
<line x1="67" y1="222" x2="106.2" y2="232.5" stroke="#F2776D" stroke-width="1.15"/>
<line x1="67" y1="231.3" x2="106.2" y2="226.7" stroke="#F2776D" stroke-width="1.15"/>
<line x1="67" y1="247.1" x2="106.2" y2="240.5" stroke="#F2776D" stroke-width="1.15"/>
<line x1="67" y1="252.4" x2="106.2" y2="259.6" stroke="#F2776D" stroke-width="1.15"/>
<line x1="67" y1="263.8" x2="106.2" y2="273.2" stroke="#F2776D" stroke-width="1.15"/>
<line x1="67" y1="277.8" x2="106.2" y2="294" stroke="#F2776D" stroke-width="1.15"/>
<line x1="67" y1="267.7" x2="106.2" y2="296.6" stroke="#F2776D" stroke-width="1.15"/>
<line x1="67" y1="286.2" x2="106.2" y2="281.4" stroke="#F2776D" stroke-width="1.15"/>
<line x1="67" y1="289.4" x2="106.2" y2="296.6" stroke="#F2776D" stroke-width="1.15"/>
<line x1="67" y1="290.7" x2="106.2" y2="308.3" stroke="#F2776D" stroke-width="1.15"/>
<line x1="67" y1="294" x2="106.2" y2="310.3" stroke="#F2776D" stroke-width="1.15"/>
<line x1="67" y1="298.6" x2="106.2" y2="288.2" stroke="#F2776D" stroke-width="1.15"/>
<line x1="67" y1="300.5" x2="106.2" y2="274.5" stroke="#F2776D" stroke-width="1.15"/>
<line x1="67" y1="309.4" x2="106.2" y2="316.4" stroke="#F2776D" stroke-width="1.15"/>
<line x1="67" y1="279.1" x2="106.2" y2="308.3" stroke="#F2776D" stroke-width="1.15"/>
<line x1="67" y1="261.5" x2="106.2" y2="310.3" stroke="#F2776D" stroke-width="1.15"/>
<line x1="106.2" y1="232.5" x2="145.4" y2="228.6" stroke="#F2776D" stroke-width="1.15"/>
<line x1="106.2" y1="288.2" x2="145.4" y2="256.3" stroke="#F2776D" stroke-width="1.15"/>
<line x1="106.2" y1="281.4" x2="145.4" y2="276.9" stroke="#F2776D" stroke-width="1.15"/>
<line x1="106.2" y1="281.4" x2="145.4" y2="282.1" stroke="#F2776D" stroke-width="1.15"/>
<line x1="67" y1="219.2" x2="106.2" y2="217.8" stroke="#5F98E8" stroke-width="1.15"/>
<line x1="67" y1="249" x2="106.2" y2="247.7" stroke="#5F98E8" stroke-width="1.15"/>
<line x1="67" y1="273.9" x2="106.2" y2="271.6" stroke="#5F98E8" stroke-width="1.15"/>
<circle cx="67" cy="211.3" r="1.35" fill="#000"/>
<circle cx="67" cy="219.2" r="1.35" fill="#000"/>
<circle cx="67" cy="222" r="1.35" fill="#000"/>
<circle cx="67" cy="231.3" r="1.35" fill="#000"/>
<circle cx="67" cy="247.1" r="1.35" fill="#000"/>
<circle cx="67" cy="249" r="1.35" fill="#000"/>
<circle cx="67" cy="252.4" r="1.35" fill="#000"/>
<circle cx="67" cy="261.5" r="1.35" fill="#000"/>
<circle cx="67" cy="263.8" r="1.35" fill="#000"/>
<circle cx="67" cy="267.7" r="1.35" fill="#000"/>
<circle cx="67" cy="273.9" r="1.35" fill="#000"/>
<circle cx="67" cy="277.8" r="1.35" fill="#000"/>
<circle cx="67" cy="279.1" r="1.35" fill="#000"/>
<circle cx="67" cy="286.2" r="1.35" fill="#000"/>
<circle cx="67" cy="289.4" r="1.35" fill="#000"/>
<circle cx="67" cy="290.7" r="1.35" fill="#000"/>
<circle cx="67" cy="294" r="1.35" fill="#000"/>
<circle cx="67" cy="298.6" r="1.35" fill="#000"/>
<circle cx="67" cy="300.5" r="1.35" fill="#000"/>
<circle cx="67" cy="309.4" r="1.35" fill="#000"/>
<circle cx="67" cy="322" r="1.35" fill="#000"/>
<circle cx="106.2" cy="213.5" r="1.35" fill="#000"/>
<circle cx="106.2" cy="217.8" r="1.35" fill="#000"/>
<circle cx="106.2" cy="226.7" r="1.35" fill="#000"/>
<circle cx="106.2" cy="232.5" r="1.35" fill="#000"/>
<circle cx="106.2" cy="240.5" r="1.35" fill="#000"/>
<circle cx="106.2" cy="247.7" r="1.35" fill="#000"/>
<circle cx="106.2" cy="259.6" r="1.35" fill="#000"/>
<circle cx="106.2" cy="271.6" r="1.35" fill="#000"/>
<circle cx="106.2" cy="273.2" r="1.35" fill="#000"/>
<circle cx="106.2" cy="274.5" r="1.35" fill="#000"/>
<circle cx="106.2" cy="281.4" r="1.35" fill="#000"/>
<circle cx="106.2" cy="288.2" r="1.35" fill="#000"/>
<circle cx="106.2" cy="294" r="1.35" fill="#000"/>
<circle cx="106.2" cy="296.6" r="1.35" fill="#000"/>
<circle cx="106.2" cy="308.3" r="1.35" fill="#000"/>
<circle cx="106.2" cy="310.3" r="1.35" fill="#000"/>
<circle cx="106.2" cy="316.4" r="1.35" fill="#000"/>
<circle cx="145.4" cy="228.6" r="1.35" fill="#000"/>
<circle cx="145.4" cy="256.3" r="1.35" fill="#000"/>
<circle cx="145.4" cy="276.9" r="1.35" fill="#000"/>
<circle cx="145.4" cy="282.1" r="1.35" fill="#000"/>
<line x1="43.5" y1="206" x2="43.5" y2="327.6" stroke="#3a3a3a" stroke-width="1"/>
<line x1="43.0" y1="327.2" x2="168.4" y2="327.2" stroke="#5a5a5a" stroke-width="1.3"/>
<line x1="67" y1="208.1" x2="107.6" y2="208.1" stroke="#000" stroke-width="1.9"/>
<circle cx="86.4" cy="203" r="1.2" fill="#000"/>
<text x="183.6" y="254" font-size="9.6" text-anchor="start" fill="#1a1a1a" stroke="#1a1a1a" stroke-width="0.12" font-weight="normal" textLength="33.4" lengthAdjust="spacingAndGlyphs">RECIST</text>
<line x1="184.2" y1="266.5" x2="195.4" y2="266.5" stroke="#5C9BF2" stroke-width="0.9"/>
<line x1="184.2" y1="279.8" x2="195.4" y2="279.8" stroke="#F29A93" stroke-width="1.3"/>
<text x="201.6" y="269.90000000000003" font-size="8.3" text-anchor="start" fill="#222" stroke="#222" stroke-width="0.12" font-weight="normal">R</text>
<text x="201.6" y="283.3" font-size="8.3" text-anchor="start" fill="#222" stroke="#222" stroke-width="0.12" font-weight="normal" textLength="11.6" lengthAdjust="spacingAndGlyphs">NR</text>
<text x="268.6" y="201" font-size="11" text-anchor="start" fill="#1a1a1a" stroke="#1a1a1a" stroke-width="0.12" font-weight="normal" textLength="35.8" lengthAdjust="spacingAndGlyphs">MIP-1b</text>
<text x="244.2" y="268.6" font-size="9.5" text-anchor="middle" fill="#1a1a1a" stroke="#1a1a1a" stroke-width="0.12" font-weight="normal" textLength="68.3" lengthAdjust="spacingAndGlyphs" transform="rotate(-90 244.2 268.6)">MIP-1b ( pg/ml )</text>
<line x1="265.7" y1="223.5" x2="268.5" y2="223.5" stroke="#333" stroke-width="1"/>
<text x="262.8" y="227.8" font-size="10" text-anchor="end" fill="#2a2a2a" stroke="#2a2a2a" stroke-width="0.12" font-weight="normal" textLength="15.09" lengthAdjust="spacingAndGlyphs">100</text>
<line x1="265.7" y1="260.5" x2="268.5" y2="260.5" stroke="#333" stroke-width="1"/>
<text x="262.8" y="265.2" font-size="10" text-anchor="end" fill="#2a2a2a" stroke="#2a2a2a" stroke-width="0.12" font-weight="normal" textLength="9.8" lengthAdjust="spacingAndGlyphs">30</text>
<line x1="265.7" y1="294.5" x2="268.5" y2="294.5" stroke="#333" stroke-width="1"/>
<text x="262.8" y="298.79999999999995" font-size="10" text-anchor="end" fill="#2a2a2a" stroke="#2a2a2a" stroke-width="0.12" font-weight="normal" textLength="9.8" lengthAdjust="spacingAndGlyphs">10</text>
<line x1="293.6" y1="328.6" x2="293.6" y2="331.20000000000005" stroke="#333" stroke-width="1"/>
<text x="293.6" y="341" font-size="9.9" text-anchor="middle" fill="#2a2a2a" stroke="#2a2a2a" stroke-width="0.12" font-weight="normal" textLength="35" lengthAdjust="spacingAndGlyphs">Baseline</text>
<line x1="335.2" y1="328.6" x2="335.2" y2="331.20000000000005" stroke="#333" stroke-width="1"/>
<text x="335.2" y="341" font-size="9.9" text-anchor="middle" fill="#2a2a2a" stroke="#2a2a2a" stroke-width="0.12" font-weight="normal" textLength="23.6" lengthAdjust="spacingAndGlyphs">C1D1</text>
<line x1="377.2" y1="328.6" x2="377.2" y2="331.20000000000005" stroke="#333" stroke-width="1"/>
<text x="377.2" y="341" font-size="9.9" text-anchor="middle" fill="#2a2a2a" stroke="#2a2a2a" stroke-width="0.12" font-weight="normal" textLength="23" lengthAdjust="spacingAndGlyphs">C2D1</text>
<text x="335" y="352.2" font-size="9.9" text-anchor="middle" fill="#222" stroke="#222" stroke-width="0.12" font-weight="normal" textLength="43.4" lengthAdjust="spacingAndGlyphs">Time point</text>
<line x1="293.5" y1="247.8" x2="293.5" y2="260.8" stroke="#505050" stroke-width="1"/>
<line x1="293.5" y1="272.7" x2="293.5" y2="284.9" stroke="#505050" stroke-width="1"/>
<rect x="283.4" y="260.8" width="20.100000000000023" height="11.899999999999977" fill="none" stroke="#4a4a4a" stroke-width="0.9"/>
<line x1="283.4" y1="267.9" x2="303.5" y2="267.9" stroke="#111" stroke-width="1.8"/>
<line x1="335.5" y1="250.9" x2="335.5" y2="265" stroke="#505050" stroke-width="1"/>
<line x1="335.5" y1="279.5" x2="335.5" y2="287.6" stroke="#505050" stroke-width="1"/>
<rect x="325" y="265" width="20.600000000000023" height="14.5" fill="none" stroke="#4a4a4a" stroke-width="0.9"/>
<line x1="325" y1="271.7" x2="345.6" y2="271.7" stroke="#111" stroke-width="1.8"/>
<line x1="377.5" y1="264.6" x2="377.5" y2="267" stroke="#505050" stroke-width="1"/>
<line x1="377.5" y1="288.4" x2="377.5" y2="305" stroke="#505050" stroke-width="1"/>
<rect x="366.4" y="267" width="21.600000000000023" height="21.399999999999977" fill="none" stroke="#4a4a4a" stroke-width="0.9"/>
<line x1="366.4" y1="275.4" x2="388" y2="275.4" stroke="#111" stroke-width="1.8"/>
<line x1="293.6" y1="252.3" x2="335.2" y2="258.7" stroke="#F2776D" stroke-width="1.15"/>
<line x1="293.6" y1="273" x2="335.2" y2="250.9" stroke="#F2776D" stroke-width="1.15"/>
<line x1="293.6" y1="291.3" x2="335.2" y2="323" stroke="#F2776D" stroke-width="1.15"/>
<line x1="293.6" y1="253" x2="335.2" y2="265.5" stroke="#F2776D" stroke-width="1.15"/>
<line x1="293.6" y1="258.2" x2="335.2" y2="279.5" stroke="#F2776D" stroke-width="1.15"/>
<line x1="293.6" y1="259.8" x2="335.2" y2="268.9" stroke="#F2776D" stroke-width="1.15"/>
<line x1="293.6" y1="262.9" x2="335.2" y2="278.5" stroke="#F2776D" stroke-width="1.15"/>
<line x1="293.6" y1="265" x2="335.2" y2="260.3" stroke="#F2776D" stroke-width="1.15"/>
<line x1="293.6" y1="267" x2="335.2" y2="283.7" stroke="#F2776D" stroke-width="1.15"/>
<line x1="293.6" y1="269.1" x2="335.2" y2="273.1" stroke="#F2776D" stroke-width="1.15"/>
<line x1="293.6" y1="270.7" x2="335.2" y2="279.5" stroke="#F2776D" stroke-width="1.15"/>
<line x1="293.6" y1="275.3" x2="335.2" y2="265.5" stroke="#F2776D" stroke-width="1.15"/>
<line x1="293.6" y1="278" x2="335.2" y2="283.7" stroke="#F2776D" stroke-width="1.15"/>
<line x1="293.6" y1="284.9" x2="335.2" y2="278.5" stroke="#F2776D" stroke-width="1.15"/>
<line x1="293.6" y1="262.9" x2="335.2" y2="273.1" stroke="#F2776D" stroke-width="1.15"/>
<line x1="335.2" y1="267.2" x2="377.2" y2="264.6" stroke="#F2776D" stroke-width="1.15"/>
<line x1="335.2" y1="278.5" x2="377.2" y2="268" stroke="#F2776D" stroke-width="1.15"/>
<line x1="335.2" y1="273.1" x2="377.2" y2="282.6" stroke="#F2776D" stroke-width="1.15"/>
<line x1="335.2" y1="323" x2="377.2" y2="305" stroke="#F2776D" stroke-width="1.15"/>
<line x1="293.6" y1="261.3" x2="335.2" y2="267.2" stroke="#5F98E8" stroke-width="1.15"/>
<line x1="293.6" y1="282.1" x2="335.2" y2="287.6" stroke="#5F98E8" stroke-width="1.15"/>
<circle cx="293.6" cy="212.6" r="1.35" fill="#000"/>
<circle cx="293.6" cy="247.8" r="1.35" fill="#000"/>
<circle cx="293.6" cy="252.3" r="1.35" fill="#000"/>
<circle cx="293.6" cy="253" r="1.35" fill="#000"/>
<circle cx="293.6" cy="258.2" r="1.35" fill="#000"/>
<circle cx="293.6" cy="259.8" r="1.35" fill="#000"/>
<circle cx="293.6" cy="261.3" r="1.35" fill="#000"/>
<circle cx="293.6" cy="262.9" r="1.35" fill="#000"/>
<circle cx="293.6" cy="265" r="1.35" fill="#000"/>
<circle cx="293.6" cy="267" r="1.35" fill="#000"/>
<circle cx="293.6" cy="269.1" r="1.35" fill="#000"/>
<circle cx="293.6" cy="270.7" r="1.35" fill="#000"/>
<circle cx="293.6" cy="272.7" r="1.35" fill="#000"/>
<circle cx="293.6" cy="275.3" r="1.35" fill="#000"/>
<circle cx="293.6" cy="278" r="1.35" fill="#000"/>
<circle cx="293.6" cy="282.1" r="1.35" fill="#000"/>
<circle cx="293.6" cy="284.9" r="1.35" fill="#000"/>
<circle cx="293.6" cy="291.3" r="1.35" fill="#000"/>
<circle cx="335.2" cy="250.9" r="1.35" fill="#000"/>
<circle cx="335.2" cy="258.7" r="1.35" fill="#000"/>
<circle cx="335.2" cy="260.3" r="1.35" fill="#000"/>
<circle cx="335.2" cy="265.5" r="1.35" fill="#000"/>
<circle cx="335.2" cy="267.2" r="1.35" fill="#000"/>
<circle cx="335.2" cy="268.9" r="1.35" fill="#000"/>
<circle cx="335.2" cy="273.1" r="1.35" fill="#000"/>
<circle cx="335.2" cy="278.5" r="1.35" fill="#000"/>
<circle cx="335.2" cy="279.5" r="1.35" fill="#000"/>
<circle cx="335.2" cy="283.7" r="1.35" fill="#000"/>
<circle cx="335.2" cy="287.6" r="1.35" fill="#000"/>
<circle cx="335.2" cy="323" r="1.35" fill="#000"/>
<circle cx="377.2" cy="264.6" r="1.35" fill="#000"/>
<circle cx="377.2" cy="268" r="1.35" fill="#000"/>
<circle cx="377.2" cy="282.6" r="1.35" fill="#000"/>
<circle cx="377.2" cy="305" r="1.35" fill="#000"/>
<line x1="268.5" y1="207" x2="268.5" y2="329.20000000000005" stroke="#3a3a3a" stroke-width="1"/>
<line x1="268.0" y1="328.8" x2="401.6" y2="328.8" stroke="#5a5a5a" stroke-width="1.3"/>
<line x1="293.6" y1="215.7" x2="333.6" y2="215.7" stroke="#000" stroke-width="1.9"/>
<circle cx="312" cy="210" r="1.2" fill="#000"/>
<text x="416.6" y="256" font-size="9.6" text-anchor="start" fill="#1a1a1a" stroke="#1a1a1a" stroke-width="0.12" font-weight="normal" textLength="33.4" lengthAdjust="spacingAndGlyphs">RECIST</text>
<line x1="417.20000000000005" y1="268.5" x2="428.40000000000003" y2="268.5" stroke="#5C9BF2" stroke-width="0.9"/>
<line x1="417.20000000000005" y1="281.8" x2="428.40000000000003" y2="281.8" stroke="#F29A93" stroke-width="1.3"/>
<text x="434.6" y="271.3" font-size="8.3" text-anchor="start" fill="#222" stroke="#222" stroke-width="0.12" font-weight="normal">R</text>
<text x="434.6" y="285.3" font-size="8.3" text-anchor="start" fill="#222" stroke="#222" stroke-width="0.12" font-weight="normal" textLength="11.6" lengthAdjust="spacingAndGlyphs">NR</text>
<text x="35.6" y="419.6" font-size="11" text-anchor="start" fill="#1a1a1a" stroke="#1a1a1a" stroke-width="0.12" font-weight="normal" textLength="26.4" lengthAdjust="spacingAndGlyphs">IP-10</text>
<text x="11.0" y="486.4" font-size="9.5" text-anchor="middle" fill="#1a1a1a" stroke="#1a1a1a" stroke-width="0.12" font-weight="normal" textLength="61.5" lengthAdjust="spacingAndGlyphs" transform="rotate(-90 11.0 486.4)">IP-10 ( pg/ml )</text>
<line x1="32.7" y1="450.5" x2="35.5" y2="450.5" stroke="#333" stroke-width="1"/>
<text x="30.3" y="455.2" font-size="10" text-anchor="end" fill="#2a2a2a" stroke="#2a2a2a" stroke-width="0.12" font-weight="normal" textLength="15.09" lengthAdjust="spacingAndGlyphs">500</text>
<line x1="32.7" y1="472.5" x2="35.5" y2="472.5" stroke="#333" stroke-width="1"/>
<text x="30.3" y="476.4" font-size="10" text-anchor="end" fill="#2a2a2a" stroke="#2a2a2a" stroke-width="0.12" font-weight="normal" textLength="15.09" lengthAdjust="spacingAndGlyphs">300</text>
<line x1="32.7" y1="518.5" x2="35.5" y2="518.5" stroke="#333" stroke-width="1"/>
<text x="30.3" y="522.4" font-size="10" text-anchor="end" fill="#2a2a2a" stroke="#2a2a2a" stroke-width="0.12" font-weight="normal" textLength="15.09" lengthAdjust="spacingAndGlyphs">100</text>
<line x1="32.7" y1="547.5" x2="35.5" y2="547.5" stroke="#333" stroke-width="1"/>
<text x="30.3" y="551.8" font-size="10" text-anchor="end" fill="#2a2a2a" stroke="#2a2a2a" stroke-width="0.12" font-weight="normal" textLength="9.8" lengthAdjust="spacingAndGlyphs">50</text>
<line x1="60.4" y1="547.4" x2="60.4" y2="550.0" stroke="#333" stroke-width="1"/>
<text x="60.4" y="560" font-size="9.9" text-anchor="middle" fill="#2a2a2a" stroke="#2a2a2a" stroke-width="0.12" font-weight="normal" textLength="35" lengthAdjust="spacingAndGlyphs">Baseline</text>
<line x1="102.4" y1="547.4" x2="102.4" y2="550.0" stroke="#333" stroke-width="1"/>
<text x="102.4" y="560" font-size="9.9" text-anchor="middle" fill="#2a2a2a" stroke="#2a2a2a" stroke-width="0.12" font-weight="normal" textLength="23.6" lengthAdjust="spacingAndGlyphs">C1D1</text>
<line x1="144" y1="547.4" x2="144" y2="550.0" stroke="#333" stroke-width="1"/>
<text x="144" y="560" font-size="9.9" text-anchor="middle" fill="#2a2a2a" stroke="#2a2a2a" stroke-width="0.12" font-weight="normal" textLength="23" lengthAdjust="spacingAndGlyphs">C2D1</text>
<text x="102.3" y="571" font-size="9.9" text-anchor="middle" fill="#222" stroke="#222" stroke-width="0.12" font-weight="normal" textLength="43.4" lengthAdjust="spacingAndGlyphs">Time point</text>
<line x1="60.5" y1="452.4" x2="60.5" y2="469.6" stroke="#505050" stroke-width="1"/>
<line x1="60.5" y1="489" x2="60.5" y2="523" stroke="#505050" stroke-width="1"/>
<rect x="50" y="469.6" width="20.599999999999994" height="19.399999999999977" fill="none" stroke="#4a4a4a" stroke-width="0.9"/>
<line x1="50" y1="477.6" x2="70.6" y2="477.6" stroke="#111" stroke-width="1.8"/>
<line x1="102.5" y1="442" x2="102.5" y2="480.6" stroke="#505050" stroke-width="1"/>
<line x1="102.5" y1="510.4" x2="102.5" y2="542.6" stroke="#505050" stroke-width="1"/>
<rect x="91.6" y="480.6" width="21.0" height="29.799999999999955" fill="none" stroke="#4a4a4a" stroke-width="0.9"/>
<line x1="91.6" y1="502" x2="112.6" y2="502" stroke="#111" stroke-width="1.8"/>
<line x1="143.5" y1="432.3" x2="143.5" y2="449" stroke="#505050" stroke-width="1"/>
<line x1="143.5" y1="476.3" x2="143.5" y2="493.6" stroke="#505050" stroke-width="1"/>
<rect x="133.2" y="449" width="21.30000000000001" height="27.30000000000001" fill="none" stroke="#4a4a4a" stroke-width="0.9"/>
<line x1="133.2" y1="462.7" x2="154.5" y2="462.7" stroke="#111" stroke-width="1.8"/>
<line x1="60.4" y1="452.9" x2="102.4" y2="441.8" stroke="#F2776D" stroke-width="1.15"/>
<line x1="60.4" y1="468.3" x2="102.4" y2="470.9" stroke="#F2776D" stroke-width="1.15"/>
<line x1="60.4" y1="468.3" x2="102.4" y2="470.9" stroke="#F2776D" stroke-width="1.15"/>
<line x1="60.4" y1="471.4" x2="102.4" y2="482" stroke="#F2776D" stroke-width="1.15"/>
<line x1="60.4" y1="475" x2="102.4" y2="480.5" stroke="#F2776D" stroke-width="1.15"/>
<line x1="60.4" y1="478.1" x2="102.4" y2="501.7" stroke="#F2776D" stroke-width="1.15"/>
<line x1="60.4" y1="479.9" x2="102.4" y2="503" stroke="#F2776D" stroke-width="1.15"/>
<line x1="60.4" y1="481.8" x2="102.4" y2="508.7" stroke="#F2776D" stroke-width="1.15"/>
<line x1="60.4" y1="483.9" x2="102.4" y2="501.7" stroke="#F2776D" stroke-width="1.15"/>
<line x1="60.4" y1="485.9" x2="102.4" y2="510" stroke="#F2776D" stroke-width="1.15"/>
<line x1="60.4" y1="476.6" x2="102.4" y2="542.7" stroke="#F2776D" stroke-width="1.15"/>
<line x1="60.4" y1="489.3" x2="102.4" y2="503" stroke="#F2776D" stroke-width="1.15"/>
<line x1="60.4" y1="498.7" x2="102.4" y2="521.9" stroke="#F2776D" stroke-width="1.15"/>
<line x1="60.4" y1="498.7" x2="102.4" y2="508.7" stroke="#F2776D" stroke-width="1.15"/>
<line x1="60.4" y1="513.2" x2="102.4" y2="523.9" stroke="#F2776D" stroke-width="1.15"/>
<line x1="60.4" y1="523.3" x2="102.4" y2="521.9" stroke="#F2776D" stroke-width="1.15"/>
<line x1="60.4" y1="481.8" x2="102.4" y2="523.9" stroke="#F2776D" stroke-width="1.15"/>
<line x1="60.4" y1="471.4" x2="102.4" y2="482" stroke="#F2776D" stroke-width="1.15"/>
<line x1="102.4" y1="503" x2="144" y2="432.3" stroke="#F2776D" stroke-width="1.15"/>
<line x1="102.4" y1="510" x2="144" y2="454.7" stroke="#F2776D" stroke-width="1.15"/>
<line x1="102.4" y1="482" x2="144" y2="470.9" stroke="#F2776D" stroke-width="1.15"/>
<line x1="102.4" y1="522.9" x2="144" y2="493.6" stroke="#F2776D" stroke-width="1.15"/>
<line x1="60.4" y1="455.8" x2="102.4" y2="467.8" stroke="#5F98E8" stroke-width="1.15"/>
<line x1="60.4" y1="469.8" x2="102.4" y2="480.5" stroke="#5F98E8" stroke-width="1.15"/>
<line x1="60.4" y1="476.6" x2="102.4" y2="487.3" stroke="#5F98E8" stroke-width="1.15"/>
<circle cx="60.4" cy="452.9" r="1.35" fill="#000"/>
<circle cx="60.4" cy="455.8" r="1.35" fill="#000"/>
<circle cx="60.4" cy="468.3" r="1.35" fill="#000"/>
<circle cx="60.4" cy="469.8" r="1.35" fill="#000"/>
<circle cx="60.4" cy="471.4" r="1.35" fill="#000"/>
<circle cx="60.4" cy="475" r="1.35" fill="#000"/>
<circle cx="60.4" cy="476.6" r="1.35" fill="#000"/>
<circle cx="60.4" cy="478.1" r="1.35" fill="#000"/>
<circle cx="60.4" cy="479.9" r="1.35" fill="#000"/>
<circle cx="60.4" cy="481.8" r="1.35" fill="#000"/>
<circle cx="60.4" cy="483.9" r="1.35" fill="#000"/>
<circle cx="60.4" cy="485.9" r="1.35" fill="#000"/>
<circle cx="60.4" cy="489.3" r="1.35" fill="#000"/>
<circle cx="60.4" cy="498.7" r="1.35" fill="#000"/>
<circle cx="60.4" cy="513.2" r="1.35" fill="#000"/>
<circle cx="60.4" cy="523.3" r="1.35" fill="#000"/>
<circle cx="102.4" cy="441.8" r="1.35" fill="#000"/>
<circle cx="102.4" cy="467.8" r="1.35" fill="#000"/>
<circle cx="102.4" cy="470.9" r="1.35" fill="#000"/>
<circle cx="102.4" cy="480.5" r="1.35" fill="#000"/>
<circle cx="102.4" cy="482" r="1.35" fill="#000"/>
<circle cx="102.4" cy="487.3" r="1.35" fill="#000"/>
<circle cx="102.4" cy="501.7" r="1.35" fill="#000"/>
<circle cx="102.4" cy="503" r="1.35" fill="#000"/>
<circle cx="102.4" cy="508.7" r="1.35" fill="#000"/>
<circle cx="102.4" cy="510" r="1.35" fill="#000"/>
<circle cx="102.4" cy="521.9" r="1.35" fill="#000"/>
<circle cx="102.4" cy="523.9" r="1.35" fill="#000"/>
<circle cx="102.4" cy="542.7" r="1.35" fill="#000"/>
<circle cx="144" cy="432.3" r="1.35" fill="#000"/>
<circle cx="144" cy="454.7" r="1.35" fill="#000"/>
<circle cx="144" cy="470.9" r="1.35" fill="#000"/>
<circle cx="144" cy="493.6" r="1.35" fill="#000"/>
<line x1="35.5" y1="426.6" x2="35.5" y2="548.0" stroke="#3a3a3a" stroke-width="1"/>
<line x1="35.0" y1="547.6" x2="169" y2="547.6" stroke="#5a5a5a" stroke-width="1.3"/>
<line x1="60.4" y1="435.1" x2="101.6" y2="435.1" stroke="#000" stroke-width="1.9"/>
<circle cx="80" cy="429.6" r="1.2" fill="#000"/>
<text x="183.6" y="475" font-size="9.6" text-anchor="start" fill="#1a1a1a" stroke="#1a1a1a" stroke-width="0.12" font-weight="normal" textLength="33.4" lengthAdjust="spacingAndGlyphs">RECIST</text>
<line x1="184.2" y1="487.5" x2="195.4" y2="487.5" stroke="#5C9BF2" stroke-width="0.9"/>
<line x1="184.2" y1="500.8" x2="195.4" y2="500.8" stroke="#F29A93" stroke-width="1.3"/>
<text x="201.6" y="490.7" font-size="8.3" text-anchor="start" fill="#222" stroke="#222" stroke-width="0.12" font-weight="normal">R</text>
<text x="201.6" y="504.3" font-size="8.3" text-anchor="start" fill="#222" stroke="#222" stroke-width="0.12" font-weight="normal" textLength="11.6" lengthAdjust="spacingAndGlyphs">NR</text>
<text x="264" y="419.4" font-size="11" text-anchor="start" fill="#1a1a1a" stroke="#1a1a1a" stroke-width="0.12" font-weight="normal" textLength="19" lengthAdjust="spacingAndGlyphs">IL-6</text>
<text x="239.2" y="487.3" font-size="9.5" text-anchor="middle" fill="#1a1a1a" stroke="#1a1a1a" stroke-width="0.12" font-weight="normal" textLength="55.2" lengthAdjust="spacingAndGlyphs" transform="rotate(-90 239.2 487.3)">IL-6 ( pg/ml )</text>
<line x1="260.7" y1="446.5" x2="263.5" y2="446.5" stroke="#333" stroke-width="1"/>
<text x="257.8" y="450.79999999999995" font-size="10" text-anchor="end" fill="#2a2a2a" stroke="#2a2a2a" stroke-width="0.12" font-weight="normal" textLength="15.09" lengthAdjust="spacingAndGlyphs">100</text>
<line x1="260.7" y1="489.5" x2="263.5" y2="489.5" stroke="#333" stroke-width="1"/>
<text x="257.8" y="493.79999999999995" font-size="10" text-anchor="end" fill="#2a2a2a" stroke="#2a2a2a" stroke-width="0.12" font-weight="normal" textLength="9.8" lengthAdjust="spacingAndGlyphs">10</text>
<line x1="260.7" y1="533.5" x2="263.5" y2="533.5" stroke="#333" stroke-width="1"/>
<text x="257.8" y="537.4" font-size="10" text-anchor="end" fill="#2a2a2a" stroke="#2a2a2a" stroke-width="0.12" font-weight="normal" textLength="4.9" lengthAdjust="spacingAndGlyphs">1</text>
<line x1="288.6" y1="547.4" x2="288.6" y2="550.0" stroke="#333" stroke-width="1"/>
<text x="288.6" y="560" font-size="9.9" text-anchor="middle" fill="#2a2a2a" stroke="#2a2a2a" stroke-width="0.12" font-weight="normal" textLength="35" lengthAdjust="spacingAndGlyphs">Baseline</text>
<line x1="330.4" y1="547.4" x2="330.4" y2="550.0" stroke="#333" stroke-width="1"/>
<text x="330.4" y="560" font-size="9.9" text-anchor="middle" fill="#2a2a2a" stroke="#2a2a2a" stroke-width="0.12" font-weight="normal" textLength="23.6" lengthAdjust="spacingAndGlyphs">C1D1</text>
<line x1="371.6" y1="547.4" x2="371.6" y2="550.0" stroke="#333" stroke-width="1"/>
<text x="371.6" y="560" font-size="9.9" text-anchor="middle" fill="#2a2a2a" stroke="#2a2a2a" stroke-width="0.12" font-weight="normal" textLength="23" lengthAdjust="spacingAndGlyphs">C2D1</text>
<text x="330.5" y="571" font-size="9.9" text-anchor="middle" fill="#222" stroke="#222" stroke-width="0.12" font-weight="normal" textLength="43.4" lengthAdjust="spacingAndGlyphs">Time point</text>
<line x1="288.5" y1="431.6" x2="288.5" y2="471" stroke="#505050" stroke-width="1"/>
<line x1="288.5" y1="501.4" x2="288.5" y2="542.6" stroke="#505050" stroke-width="1"/>
<rect x="278" y="471" width="20.600000000000023" height="30.399999999999977" fill="none" stroke="#4a4a4a" stroke-width="0.9"/>
<line x1="278" y1="492.4" x2="298.6" y2="492.4" stroke="#111" stroke-width="1.8"/>
<line x1="330.5" y1="454" x2="330.5" y2="471" stroke="#505050" stroke-width="1"/>
<line x1="330.5" y1="497.4" x2="330.5" y2="517.6" stroke="#505050" stroke-width="1"/>
<rect x="319.6" y="471" width="21.0" height="26.399999999999977" fill="none" stroke="#4a4a4a" stroke-width="0.9"/>
<line x1="319.6" y1="486.6" x2="340.6" y2="486.6" stroke="#111" stroke-width="1.8"/>
<line x1="371.5" y1="481" x2="371.5" y2="483" stroke="#505050" stroke-width="1"/>
<line x1="371.5" y1="491" x2="371.5" y2="491" stroke="#505050" stroke-width="1"/>
<rect x="361.4" y="483" width="21.200000000000045" height="8" fill="none" stroke="#4a4a4a" stroke-width="0.9"/>
<line x1="361.4" y1="483.6" x2="382.6" y2="483.6" stroke="#111" stroke-width="1.8"/>
<line x1="288.6" y1="471.4" x2="330.4" y2="454.1" stroke="#F2776D" stroke-width="1.15"/>
<line x1="288.6" y1="483.3" x2="330.4" y2="454.1" stroke="#F2776D" stroke-width="1.15"/>
<line x1="288.6" y1="486.9" x2="330.4" y2="454.1" stroke="#F2776D" stroke-width="1.15"/>
<line x1="288.6" y1="490" x2="330.4" y2="454.1" stroke="#F2776D" stroke-width="1.15"/>
<line x1="288.6" y1="471.4" x2="330.4" y2="471.7" stroke="#F2776D" stroke-width="1.15"/>
<line x1="288.6" y1="477.8" x2="330.4" y2="462" stroke="#F2776D" stroke-width="1.15"/>
<line x1="288.6" y1="485.1" x2="330.4" y2="468.1" stroke="#F2776D" stroke-width="1.15"/>
<line x1="288.6" y1="488.7" x2="330.4" y2="473.5" stroke="#F2776D" stroke-width="1.15"/>
<line x1="288.6" y1="493" x2="330.4" y2="482" stroke="#F2776D" stroke-width="1.15"/>
<line x1="288.6" y1="498" x2="330.4" y2="485.1" stroke="#F2776D" stroke-width="1.15"/>
<line x1="288.6" y1="501.2" x2="330.4" y2="491.1" stroke="#F2776D" stroke-width="1.15"/>
<line x1="288.6" y1="483.3" x2="330.4" y2="483.3" stroke="#F2776D" stroke-width="1.15"/>
<line x1="288.6" y1="486.9" x2="330.4" y2="486.9" stroke="#F2776D" stroke-width="1.15"/>
<line x1="288.6" y1="536.4" x2="330.4" y2="512.8" stroke="#F2776D" stroke-width="1.15"/>
<line x1="288.6" y1="542.5" x2="330.4" y2="515.2" stroke="#F2776D" stroke-width="1.15"/>
<line x1="288.6" y1="517.9" x2="330.4" y2="503.7" stroke="#F2776D" stroke-width="1.15"/>
<line x1="288.6" y1="516.4" x2="330.4" y2="489.3" stroke="#F2776D" stroke-width="1.15"/>
<line x1="288.6" y1="497" x2="330.4" y2="492.7" stroke="#F2776D" stroke-width="1.15"/>
<line x1="330.4" y1="486.9" x2="371.6" y2="481" stroke="#F2776D" stroke-width="1.15"/>
<line x1="330.4" y1="489.3" x2="371.6" y2="484.6" stroke="#F2776D" stroke-width="1.15"/>
<line x1="330.4" y1="485.1" x2="371.6" y2="511" stroke="#F2776D" stroke-width="1.15"/>
<line x1="330.4" y1="515.2" x2="371.6" y2="484.6" stroke="#F2776D" stroke-width="1.15"/>
<line x1="288.6" y1="497" x2="330.4" y2="492.1" stroke="#5F98E8" stroke-width="1.15"/>
<line x1="288.6" y1="516.4" x2="330.4" y2="510.9" stroke="#5F98E8" stroke-width="1.15"/>
<line x1="288.6" y1="515.2" x2="330.4" y2="517.6" stroke="#5F98E8" stroke-width="1.15"/>
<circle cx="288.6" cy="432" r="1.35" fill="#000"/>
<circle cx="288.6" cy="443.2" r="1.35" fill="#000"/>
<circle cx="288.6" cy="444.7" r="1.35" fill="#000"/>
<circle cx="288.6" cy="461.6" r="1.35" fill="#000"/>
<circle cx="288.6" cy="471.4" r="1.35" fill="#000"/>
<circle cx="288.6" cy="477.8" r="1.35" fill="#000"/>
<circle cx="288.6" cy="483.3" r="1.35" fill="#000"/>
<circle cx="288.6" cy="485.1" r="1.35" fill="#000"/>
<circle cx="288.6" cy="486.9" r="1.35" fill="#000"/>
<circle cx="288.6" cy="488.7" r="1.35" fill="#000"/>
<circle cx="288.6" cy="493" r="1.35" fill="#000"/>
<circle cx="288.6" cy="497" r="1.35" fill="#000"/>
<circle cx="288.6" cy="498" r="1.35" fill="#000"/>
<circle cx="288.6" cy="501.2" r="1.35" fill="#000"/>
<circle cx="288.6" cy="515.2" r="1.35" fill="#000"/>
<circle cx="288.6" cy="516.4" r="1.35" fill="#000"/>
<circle cx="288.6" cy="517.9" r="1.35" fill="#000"/>
<circle cx="288.6" cy="536.4" r="1.35" fill="#000"/>
<circle cx="288.6" cy="542.5" r="1.35" fill="#000"/>
<circle cx="330.4" cy="454.1" r="1.35" fill="#000"/>
<circle cx="330.4" cy="462" r="1.35" fill="#000"/>
<circle cx="330.4" cy="468.1" r="1.35" fill="#000"/>
<circle cx="330.4" cy="471.7" r="1.35" fill="#000"/>
<circle cx="330.4" cy="473.5" r="1.35" fill="#000"/>
<circle cx="330.4" cy="482" r="1.35" fill="#000"/>
<circle cx="330.4" cy="483.3" r="1.35" fill="#000"/>
<circle cx="330.4" cy="485.1" r="1.35" fill="#000"/>
<circle cx="330.4" cy="486.9" r="1.35" fill="#000"/>
<circle cx="330.4" cy="489.3" r="1.35" fill="#000"/>
<circle cx="330.4" cy="491.1" r="1.35" fill="#000"/>
<circle cx="330.4" cy="492.7" r="1.35" fill="#000"/>
<circle cx="330.4" cy="497.6" r="1.35" fill="#000"/>
<circle cx="330.4" cy="503.7" r="1.35" fill="#000"/>
<circle cx="330.4" cy="510.9" r="1.35" fill="#000"/>
<circle cx="330.4" cy="512.8" r="1.35" fill="#000"/>
<circle cx="330.4" cy="515.2" r="1.35" fill="#000"/>
<circle cx="330.4" cy="517.6" r="1.35" fill="#000"/>
<circle cx="371.6" cy="481" r="1.35" fill="#000"/>
<circle cx="371.6" cy="484.6" r="1.35" fill="#000"/>
<circle cx="371.6" cy="511" r="1.35" fill="#000"/>
<line x1="263.5" y1="426.6" x2="263.5" y2="548.0" stroke="#3a3a3a" stroke-width="1"/>
<line x1="263.0" y1="547.6" x2="397" y2="547.6" stroke="#5a5a5a" stroke-width="1.3"/>
<line x1="288.6" y1="425.70000000000005" x2="330" y2="425.70000000000005" stroke="#000" stroke-width="1.9"/>
<circle cx="308" cy="420" r="1.2" fill="#000"/>
<text x="411.6" y="475" font-size="9.6" text-anchor="start" fill="#1a1a1a" stroke="#1a1a1a" stroke-width="0.12" font-weight="normal" textLength="33.4" lengthAdjust="spacingAndGlyphs">RECIST</text>
<line x1="412.20000000000005" y1="487.5" x2="423.40000000000003" y2="487.5" stroke="#5C9BF2" stroke-width="0.9"/>
<line x1="412.20000000000005" y1="500.8" x2="423.40000000000003" y2="500.8" stroke="#F29A93" stroke-width="1.3"/>
<text x="429.6" y="490.3" font-size="8.3" text-anchor="start" fill="#222" stroke="#222" stroke-width="0.12" font-weight="normal">R</text>
<text x="429.6" y="504.3" font-size="8.3" text-anchor="start" fill="#222" stroke="#222" stroke-width="0.12" font-weight="normal" textLength="11.6" lengthAdjust="spacingAndGlyphs">NR</text>
<text x="-1.2" y="6.9" font-size="13.5" font-weight="bold" fill="#000">a</text>
<text x="7.3" y="393" font-size="13.5" font-weight="bold" fill="#000">b</text>
</svg></body></html>
